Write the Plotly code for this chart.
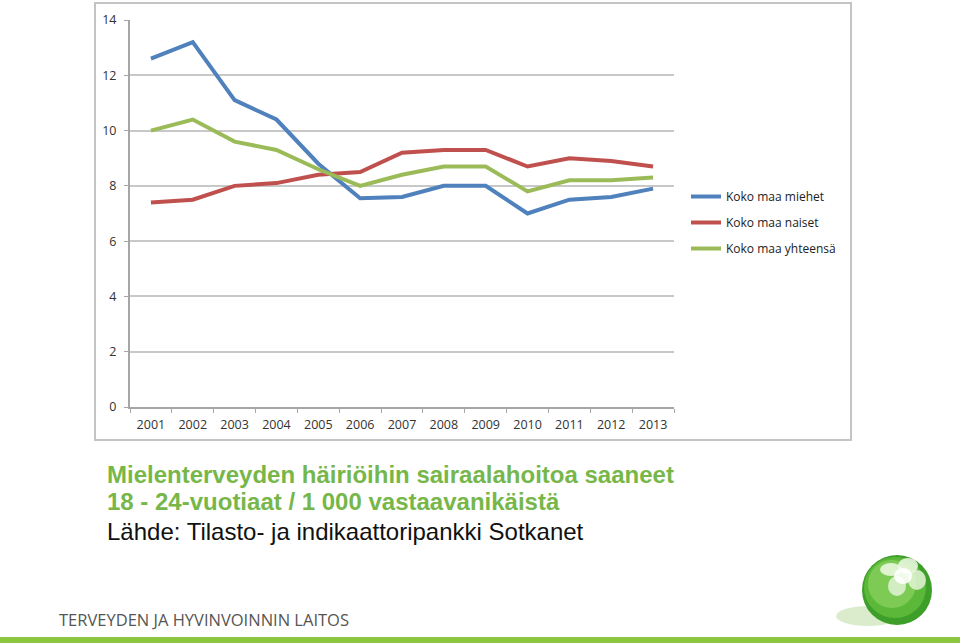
import plotly.graph_objects as go

years = ["2001", "2002", "2003", "2004", "2005", "2006", "2007",
         "2008", "2009", "2010", "2011", "2012", "2013"]
miehet = [12.6, 13.2, 11.1, 10.4, 8.8, 7.55, 7.6, 8.0, 8.0, 7.0, 7.5, 7.6, 7.9]
naiset = [7.4, 7.5, 8.0, 8.1, 8.4, 8.5, 9.2, 9.3, 9.3, 8.7, 9.0, 8.9, 8.7]
yhteensa = [10.0, 10.4, 9.6, 9.3, 8.6, 8.0, 8.4, 8.7, 8.7, 7.8, 8.2, 8.2, 8.3]
series_names = ["Koko maa miehet", "Koko maa naiset", "Koko maa yhteensä"]
y_ticks = [0, 2, 4, 6, 8, 10, 12, 14]

W, H = 960, 643
def px(x): return x / W
def py(y): return 1 - y / H

colors = ["#4F81BD", "#C0504D", "#9BBB59"]
fig = go.Figure()
for i, (name, vals) in enumerate(zip(series_names, [miehet, naiset, yhteensa])):
    fig.add_trace(go.Scatter(x=years, y=vals, mode="lines", name=name,
                             legendgroup=name,
                             line=dict(color=colors[i], width=4)))

tick_font = dict(size=12.5, color="#333333", family="Open Sans, sans-serif")
fig.update_layout(
    width=W, height=H,
    margin=dict(l=0, r=0, t=0, b=0, autoexpand=False),
    paper_bgcolor="white", plot_bgcolor="white",
    font=dict(family="Liberation Sans, Arial, sans-serif", color="#333333"),
    showlegend=True,
    legend=dict(x=px(686), y=py(182), xanchor="left", yanchor="top",
                font=dict(size=12, color="#222222", family="Open Sans, sans-serif"),
                tracegroupgap=7, bgcolor="rgba(0,0,0,0)"),
    xaxis=dict(domain=[px(130), px(674)], type="category", automargin=False,
               tickson="boundaries", ticks="outside", ticklen=4,
               tickcolor="#A6A6A6", showgrid=False,
               showline=True, linecolor="#A6A6A6", linewidth=2,
               ticklabelstandoff=5, tickfont=tick_font,
               range=[-0.5, 12.5]),
    yaxis=dict(domain=[py(407), py(20)], range=[0, 14], tickvals=y_ticks,
               automargin=False,
               showgrid=True, gridcolor="#C8C8C8", gridwidth=2,
               showline=True, linecolor="#A6A6A6", linewidth=2,
               ticks="outside", ticklen=4, tickcolor="#A6A6A6",
               zeroline=False, ticklabelstandoff=5, tickfont=tick_font),
)

shapes = [
    dict(type="rect", xref="paper", yref="paper", x0=px(95), x1=px(851),
         y0=py(440), y1=py(3), line=dict(color="#C4C4C4", width=2)),
    dict(type="rect", xref="paper", yref="paper", x0=0, x1=1,
         y0=0, y1=py(637), line=dict(width=0), fillcolor="#8CC63F"),
    # logo shadow
    dict(type="circle", xref="paper", yref="paper", x0=px(836), x1=px(900),
         y0=py(626), y1=py(606), line=dict(width=0), fillcolor="rgba(150,200,110,0.35)"),
    dict(type="circle", xref="paper", yref="paper", x0=px(862), x1=px(932),
         y0=py(625), y1=py(555), line=dict(width=0), fillcolor="#3E9E2A"),
    dict(type="circle", xref="paper", yref="paper", x0=px(864), x1=px(926),
         y0=py(618), y1=py(557), line=dict(width=0), fillcolor="#5BB838"),
    dict(type="circle", xref="paper", yref="paper", x0=px(868), x1=px(916),
         y0=py(608), y1=py(560), line=dict(width=0), fillcolor="#7DCB55"),
    # flower petals
    dict(type="circle", xref="paper", yref="paper", x0=px(880), x1=px(902),
         y0=py(576), y1=py(563), line=dict(width=0), fillcolor="rgba(240,250,230,0.85)"),
    dict(type="circle", xref="paper", yref="paper", x0=px(898), x1=px(918),
         y0=py(574), y1=py(558), line=dict(width=0), fillcolor="rgba(240,250,230,0.85)"),
    dict(type="circle", xref="paper", yref="paper", x0=px(908), x1=px(926),
         y0=py(590), y1=py(570), line=dict(width=0), fillcolor="rgba(235,248,225,0.8)"),
    dict(type="circle", xref="paper", yref="paper", x0=px(888), x1=px(906),
         y0=py(596), y1=py(576), line=dict(width=0), fillcolor="rgba(230,245,220,0.8)"),
    dict(type="circle", xref="paper", yref="paper", x0=px(894), x1=px(912),
         y0=py(584), y1=py(568), line=dict(width=0), fillcolor="rgba(255,255,255,0.9)"),
]
fig.update_layout(shapes=shapes)

ann = [
    dict(text="<b>Mielenterveyden häiriöihin sairaalahoitoa saaneet</b>",
         x=px(105), y=py(474), font=dict(size=24, color="#77B74A")),
    dict(text="<b>18 - 24-vuotiaat / 1 000 vastaavanikäistä</b>",
         x=px(105), y=py(502), font=dict(size=24, color="#77B74A")),
    dict(text="Lähde: Tilasto- ja indikaattoripankki Sotkanet",
         x=px(105), y=py(531), font=dict(size=24, color="#111111")),
    dict(text="TERVEYDEN JA HYVINVOINNIN LAITOS",
         x=px(57), y=py(619), font=dict(size=16.5, color="#555555",
                                       family="Open Sans, sans-serif")),
]
for a in ann:
    a.update(xref="paper", yref="paper", xanchor="left", yanchor="middle",
             showarrow=False)
    a["font"].setdefault("family", "Liberation Sans, Arial, sans-serif")
fig.update_layout(annotations=ann)

fig.write_html("out.html", config={"displayModeBar": False},
               post_script="document.body.style.margin='0';document.body.style.overflow='hidden';")
